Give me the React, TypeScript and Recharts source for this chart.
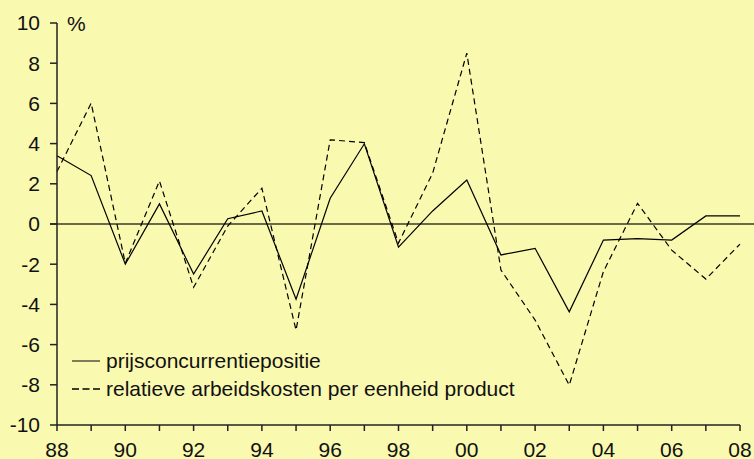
import React from 'react';
import { LineChart, Line, XAxis, YAxis, ReferenceLine } from 'recharts';

const years = ['88','89','90','91','92','93','94','95','96','97','98','99','00','01','02','03','04','05','06','07','08'];
const prijsconcurrentiepositie = [3.40, 2.41, -2.0, 1.0, -2.49, 0.26, 0.65, -3.74, 1.28, 3.99, -1.15, 0.65, 2.19, -1.54, -1.21, -4.37, -0.80, -0.73, -0.80, 0.40, 0.40];
const arbeidskosten = [2.61, 6.01, -1.95, 2.14, -3.15, -0.1, 1.78, -5.28, 4.19, 4.05, -0.95, 2.53, 8.50, -2.29, -4.78, -8.02, -2.37, 1.03, -1.30, -2.74, -1.0];
const yTicks = [-10, -8, -6, -4, -2, 0, 2, 4, 6, 8, 10];
const seriesNames = ['prijsconcurrentiepositie', 'relatieve arbeidskosten per eenheid product'];

const data = years.map((y, i) => ({ year: y, a: prijsconcurrentiepositie[i], b: arbeidskosten[i] }));

const BG = '#FAF9B0';
const FONT = '"Liberation Sans", Arial, Helvetica, sans-serif';

const ZeroLine = (props: any) => {
  const { x1, y1, x2, y2 } = props;
  return <line x1={x1 - 7} y1={y1} x2={x2 + 14} y2={y2} stroke="#6b6a48" strokeWidth={2} />;
};

export default function App() {
  return (
    <div style={{ position: 'absolute', left: 0, top: 0, width: 754, height: 459, background: BG, fontFamily: FONT }}>
      <LineChart width={754} height={459} data={data} margin={{ top: 23, right: 14, bottom: 0, left: 0 }}>
        <XAxis
          dataKey="year"
          interval={0}
          tickFormatter={(v: string, i: number) => (i % 2 === 0 ? v : '')}
          tick={{ fontSize: 21, fill: '#111', fontFamily: FONT }}
          tickSize={6}
          tickMargin={11}
          height={34}
          axisLine={{ stroke: '#222', strokeWidth: 1.5 }}
          tickLine={{ stroke: '#222', strokeWidth: 1.5 }}
        />
        <YAxis
          domain={[-10, 10]}
          ticks={yTicks}
          interval={0}
          width={57}
          tick={{ fontSize: 21, fill: '#111', fontFamily: FONT }}
          tickSize={7}
          tickMargin={10}
          axisLine={{ stroke: '#222', strokeWidth: 1.5 }}
          tickLine={{ stroke: '#222', strokeWidth: 1.5 }}
        />
        <ReferenceLine y={0} shape={<ZeroLine />} />
        <Line dataKey="a" name={seriesNames[0]} stroke="#000" strokeWidth={1.2} dot={false} isAnimationActive={false} />
        <Line dataKey="b" name={seriesNames[1]} stroke="#000" strokeWidth={1.2} strokeDasharray="6 4" dot={false} isAnimationActive={false} />
      </LineChart>
      <svg width={480} height={60} style={{ position: 'absolute', left: 72, top: 351 }}>
        <line x1={0} y1={10} x2={28} y2={10} stroke="#000" strokeWidth={1} />
        <text x={34} y={17} fontSize={21} fontFamily={FONT} fill="#111">{seriesNames[0]}</text>
        <line x1={0} y1={38} x2={28} y2={38} stroke="#000" strokeWidth={1.5} strokeDasharray="7 3.5" />
        <text x={34} y={45} fontSize={21} fontFamily={FONT} fill="#111">{seriesNames[1]}</text>
      </svg>
      <div style={{ position: 'absolute', left: 67, top: 12, fontSize: 21, fontFamily: FONT, color: '#111', lineHeight: '24px' }}>%</div>
    </div>
  );
}
